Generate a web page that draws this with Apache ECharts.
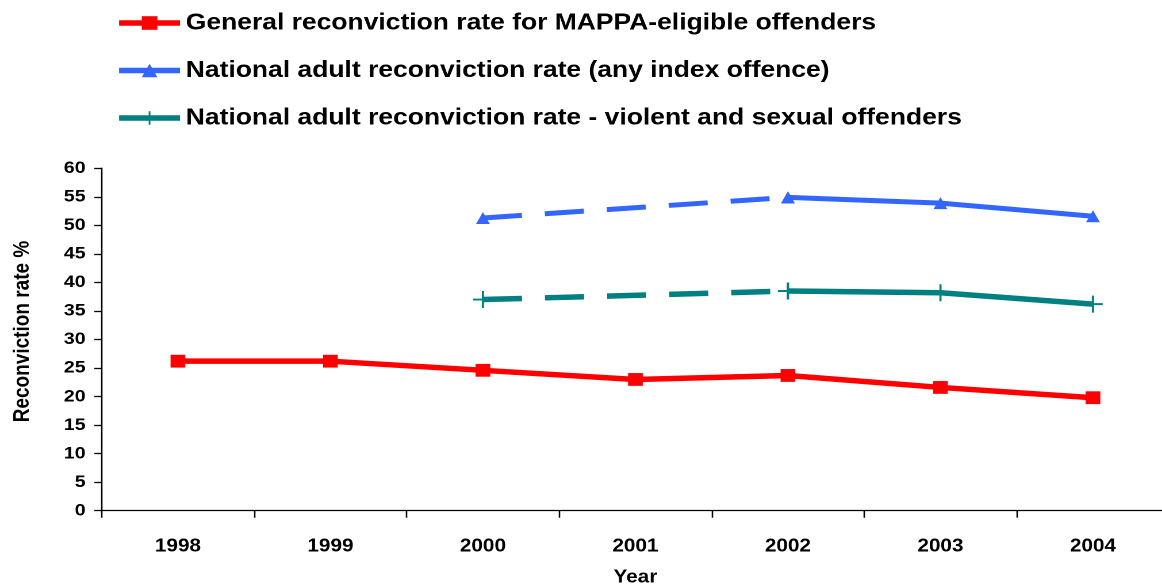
<!DOCTYPE html>
<html>
<head>
<meta charset="utf-8">
<script src="https://cdn.jsdelivr.net/npm/echarts@6/dist/echarts.min.js"></script>
<style>
  html, body { margin: 0; padding: 0; background: #fff; overflow: hidden; }
  #wrap { width: 1162px; height: 588px; overflow: hidden; }
  /* chart is laid out narrower and widened horizontally */
  #chart { width: 1011px; height: 588px; transform: scaleX(1.15); transform-origin: 0 0; }
</style>
</head>
<body>
<div id="wrap"><div id="chart"></div></div>
<script>
const years = ['1998', '1999', '2000', '2001', '2002', '2003', '2004'];

const mappaRate = [26.2, 26.2, 24.6, 23.0, 23.7, 21.6, 19.8];
// national rates: no figure for 2001, the gap is bridged with a dashed line
const nationalAny = [null, null, 51.3, null, 54.9, 53.9, 51.6];
const nationalViolentSexual = [null, null, 37.0, null, 38.5, 38.2, 36.2];

const yTicks = { min: 0, max: 60, interval: 5 };

const nameMappa = 'General reconviction rate for MAPPA-eligible offenders';
const nameAny = 'National adult reconviction rate (any index offence)';
const nameViolent = 'National adult reconviction rate - violent and sexual offenders';

const RED = '#FF0000', BLUE = '#3366FF', TEAL = '#008080';
const FONT = '"Liberation Sans", Arial, sans-serif';
const plusSymbol = 'path://M0,8H18V10H0Z M8,0H10V18H8Z';

// split a series into its measured stretch (solid) and the bridged gap (dashed)
function solidPart(arr) {
  const first = arr.findIndex(x => x !== null);
  const firstGap = arr.findIndex((v, i) => v === null && i > first);
  return arr.map((v, i) => (i >= firstGap + 1 ? v : null));
}
function dashedPart(arr) {
  const first = arr.findIndex(x => x !== null);
  const firstGap = arr.findIndex((v, i) => v === null && i > first);
  return arr.map((v, i) => (i <= firstGap + 1 ? v : null));
}

const chart = echarts.init(document.getElementById('chart'), null, { renderer: 'canvas', devicePixelRatio: 2 });

chart.setOption({
  animation: false,
  backgroundColor: '#fff',
  textStyle: { fontFamily: FONT },
  legend: {
    orient: 'vertical',
    left: 100.8,
    top: 11,
    padding: 0,
    itemWidth: 53,
    itemHeight: 17,
    itemGap: 23.5,
    data: [nameMappa, nameAny, nameViolent],
    textStyle: { fontFamily: FONT, fontWeight: 'bold', fontSize: 23, color: '#000', lineHeight: 24 },
    lineStyle: { width: 5.5 }
  },
  grid: { left: 88.4, top: 168.3, width: 928.3, bottom: 77.3, containLabel: false, outerBoundsMode: 'none' },
  xAxis: {
    type: 'category',
    data: years,
    boundaryGap: true,
    name: 'Year',
    nameLocation: 'middle',
    nameGap: 58,
    nameTextStyle: { fontFamily: FONT, fontWeight: 'bold', fontSize: 18, color: '#000' },
    axisLine: { lineStyle: { color: '#000', width: 1.3 } },
    axisTick: { show: true, length: 7, lineStyle: { color: '#000', width: 1.3 } },
    axisLabel: { margin: 27, fontFamily: FONT, fontWeight: 'bold', fontSize: 18, color: '#000' },
    splitLine: { show: false }
  },
  yAxis: {
    type: 'value',
    min: yTicks.min,
    max: yTicks.max,
    interval: yTicks.interval,
    name: 'Reconviction rate %',
    nameLocation: 'middle',
    nameRotate: 90,
    nameGap: 59,
    nameTextStyle: { fontFamily: FONT, fontWeight: 'bold', fontSize: 19, color: '#000', padding: [0, 0, 0, 16] },
    axisLine: { show: true, lineStyle: { color: '#000', width: 1.3 } },
    axisTick: { show: true, length: 6.4, lineStyle: { color: '#000', width: 1.3 } },
    axisLabel: { margin: 14, fontFamily: FONT, fontWeight: 'bold', fontSize: 17, color: '#000' },
    splitLine: { show: false }
  },
  series: [
    {
      name: nameMappa, type: 'line', data: mappaRate,
      symbol: 'rect', symbolSize: [12.8, 12.8],
      itemStyle: { color: RED },
      lineStyle: { color: RED, width: 5.5 }
    },
    {
      name: nameAny, type: 'line', data: solidPart(nationalAny),
      symbol: 'triangle', symbolSize: 12,
      itemStyle: { color: BLUE },
      lineStyle: { color: BLUE, width: 5 }
    },
    {
      name: nameAny + ' (bridged)', type: 'line', data: dashedPart(nationalAny),
      connectNulls: true,
      symbol: 'triangle', symbolSize: 12,
      itemStyle: { color: BLUE },
      lineStyle: { color: BLUE, width: 5, type: [34, 20] }
    },
    {
      name: nameViolent, type: 'line', data: solidPart(nationalViolentSexual),
      symbol: plusSymbol, symbolSize: 17,
      itemStyle: { color: TEAL },
      lineStyle: { color: TEAL, width: 5.5 }
    },
    {
      name: nameViolent + ' (bridged)', type: 'line', data: dashedPart(nationalViolentSexual),
      connectNulls: true,
      symbol: plusSymbol, symbolSize: 17,
      itemStyle: { color: TEAL },
      lineStyle: { color: TEAL, width: 5.5, type: [34, 20] }
    }
  ]
});
</script>
</body>
</html>
